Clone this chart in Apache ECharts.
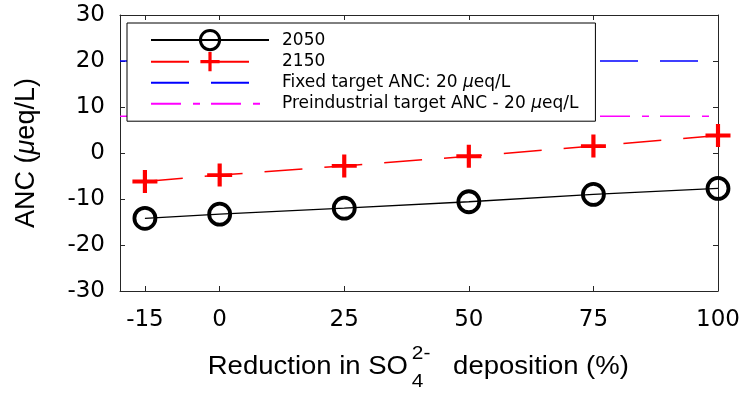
<!DOCTYPE html>
<html><head><meta charset="utf-8">
<script src="https://cdn.jsdelivr.net/npm/echarts@6/dist/echarts.min.js"></script>
<style>html,body{margin:0;padding:0;background:#fff}#c{width:746px;height:393px}</style>
</head><body><div id="c"></div>
<script>
// ---- data ----
const reductions = [-15, 0, 25, 50, 75, 100];
const anc2050 = [-14.2, -13.3, -12.0, -10.6, -9.0, -7.7];
const anc2150 = [-6.2, -4.8, -2.8, -0.7, 1.5, 3.8];
const targetSpan = [-20, 100];
const fixedTarget = [20, 20];
const preindustrialTarget = [8, 8];
const xTickValues = [-15, 0, 25, 50, 75, 100];
const seriesNames = ['2050', '2150', 'Fixed target ANC: 20 μeq/L', 'Preindustrial target ANC - 20 μeq/L'];
const xTitleParts = ['Reduction in SO', '4', '2-', 'deposition (%)'];
const yTitle = 'ANC (μeq/L)';

const AX = '#262626';
const TICKFONT = 'DejaVu Sans';
const TITLEFONT = 'Liberation Sans';

const plusPath = 'path://M10,0h4v10h10v4h-10v10h-4v-10h-10v-4h10z';

const pairs = (xs, ys) => xs.map((x, i) => [x, ys[i]]);

const TS = 25;

const chart = echarts.init(document.getElementById('c'), null, {renderer: 'canvas'});
const italicMu = s => s.replace('μ', '{i|μ}');

const tstyle = (text, size, align) => ({text: text, fontSize: size, fontFamily: TITLEFONT, fill: '#000', verticalAlign: 'middle', align: align || 'left'});

chart.setOption({
  animation: false,
  backgroundColor: '#fff',
  grid: {left: 120, right: 28, top: 15, bottom: 102, containLabel: false, outerBoundsMode: 'none'},
  xAxis: [{
    type: 'value', min: -20, max: 100, position: 'bottom',
    axisLine: {onZero: false, lineStyle: {color: AX, width: 1}},
    axisTick: {inside: true, length: 5, customValues: xTickValues, lineStyle: {color: AX}},
    axisLabel: {customValues: xTickValues, margin: 18, fontFamily: TICKFONT, fontSize: 23, color: '#000'},
    splitLine: {show: false}
  }, {
    type: 'value', min: -20, max: 100, position: 'top',
    axisLine: {onZero: false, lineStyle: {color: AX, width: 1}},
    axisTick: {inside: true, length: 5, customValues: xTickValues, lineStyle: {color: AX}},
    axisLabel: {show: false},
    splitLine: {show: false}
  }],
  yAxis: [{
    type: 'value', min: -30, max: 30, interval: 10, position: 'left',
    name: italicMu(yTitle), nameLocation: 'middle', nameGap: 80,
    nameTextStyle: {fontFamily: TITLEFONT, fontSize: 27, color: '#000',
      rich: {i: {fontFamily: TITLEFONT, fontSize: 27, fontStyle: 'italic', color: '#000'}}},
    axisLine: {onZero: false, lineStyle: {color: AX, width: 1}},
    axisTick: {inside: true, length: 5, lineStyle: {color: AX}},
    axisLabel: {margin: 15, fontFamily: TICKFONT, fontSize: 23, color: '#000'},
    splitLine: {show: false}
  }, {
    type: 'value', min: -30, max: 30, interval: 10, position: 'right',
    axisLine: {onZero: false, lineStyle: {color: AX, width: 1}},
    axisTick: {inside: true, length: 5, lineStyle: {color: AX}},
    axisLabel: {show: false},
    splitLine: {show: false}
  }],
  legend: {
    left: 127, top: 23, orient: 'vertical',
    padding: [6, 17, 7, 23],
    backgroundColor: '#fff', borderColor: '#000', borderWidth: 1, borderRadius: 0,
    itemWidth: 118, itemHeight: 24, itemGap: 0,
    selectedMode: false,
    textStyle: {fontFamily: TICKFONT, fontSize: 17, color: '#000', lineHeight: 21, padding: [0, 0, 0, 8],
      rich: {i: {fontFamily: TICKFONT, fontSize: 17, fontStyle: 'italic', color: '#000'}}},
    formatter: n => italicMu(n),
    data: [
      {name: seriesNames[0], itemStyle: {borderWidth: 3}},
      {name: seriesNames[1], itemStyle: {borderWidth: 0}},
      {name: seriesNames[2], itemStyle: {opacity: 0}},
      {name: seriesNames[3], itemStyle: {opacity: 0}}
    ]
  },
  series: [{
    name: seriesNames[0], type: 'line', data: pairs(reductions, anc2050),
    symbol: 'circle', symbolSize: 21,
    itemStyle: {color: 'rgba(0,0,0,0)', borderColor: '#000', borderWidth: 3.8},
    lineStyle: {color: '#000', width: 1.3}, z: 3
  }, {
    name: seriesNames[1], type: 'line', data: pairs(reductions, anc2150),
    symbol: plusPath, symbolSize: [25, 23],
    itemStyle: {color: '#ff0000', borderWidth: 0},
    lineStyle: {color: '#ff0000', width: 1.5, type: [38, 22]}, z: 3
  }, {
    name: seriesNames[2], type: 'line', data: pairs(targetSpan, fixedTarget),
    symbol: 'none', itemStyle: {color: '#0000ff'},
    lineStyle: {color: '#0000ff', width: 1.5, type: [38, 22]}
  }, {
    name: seriesNames[3], type: 'line', data: pairs(targetSpan, preindustrialTarget),
    symbol: 'none', itemStyle: {color: '#ff00ff'},
    lineStyle: {color: '#ff00ff', width: 1.5, type: [30, 12, 7, 11]}
  }],
  graphic: [{
    type: 'group', x: 408, y: 367.5, scaleX: 1.1,
    children: [
      {type: 'text', x: 0, y: 0, style: tstyle(xTitleParts[0], TS, 'right')},
      {type: 'text', x: 3.5, y: 14, style: tstyle(xTitleParts[1], 19)},
      {type: 'text', x: 3.5, y: -14, style: tstyle(xTitleParts[2], 19)},
      {type: 'text', x: 41, y: 0, style: tstyle(xTitleParts[3], TS)}
    ]
  }]
});
</script></body></html>
